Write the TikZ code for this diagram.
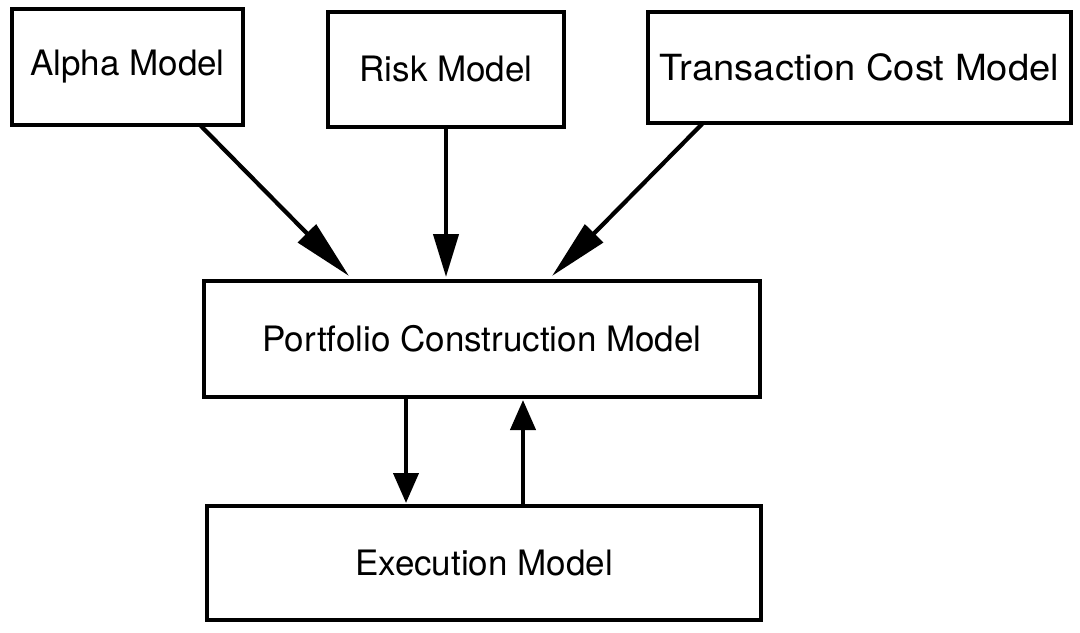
\documentclass[tikz,border=0pt]{standalone}
\usepackage{fontspec}
\setmainfont{TeX Gyre Heros}
\usetikzlibrary{arrows.meta}
\tikzset{
  box/.style={draw=black, line width=2pt, rectangle, inner sep=0pt, outer sep=0pt,
    font=\fontsize{17.5pt}{21pt}\selectfont},
  arr/.style={draw=black, line width=2.1pt},
  diagtip/.style={-{Triangle[length=30pt,width=12.5pt]}},
  midtip/.style={-{Triangle[length=21.5pt,width=12.5pt]}},
  shorttip/.style={-{Triangle[length=15pt,width=12.5pt]}}
}
\begin{document}
\begin{tikzpicture}[x=0.5pt,y=-0.5pt]
\useasboundingbox (0,0) rectangle (1080,632);
\node[box, minimum width=115.5pt, minimum height=58pt] (alpha) at (127.5,67) {Alpha Model};
\node[box, minimum width=118pt, minimum height=57.5pt] (risk) at (446,69.5) {Risk Model};
\node[box, minimum width=211.5pt, minimum height=55.5pt] (tcm) at (859.5,67.5) {\fontsize{18pt}{21pt}\selectfont\scalebox{1.06}[1]{Transaction Cost Model}};
\node[box, minimum width=278pt, minimum height=58pt] (pcm) at (482,339) {Portfolio Construction Model};
\node[box, minimum width=277pt, minimum height=57pt] (exec) at (484,563) {Execution Model};
\draw[arr, diagtip] ([xshift=36.25pt]alpha.south) -- ([xshift=-66.5pt,yshift=2.5pt]pcm.north);
\draw[arr, midtip] (risk.south) -- ([xshift=-18pt,yshift=2pt]pcm.north);
\draw[arr, diagtip] ([xshift=-78.25pt]tcm.south) -- ([xshift=35pt,yshift=2.5pt]pcm.north);
\draw[arr, shorttip] ([xshift=-38pt]pcm.south) -- ([xshift=-39pt,yshift=1.5pt]exec.north);
\draw[arr, shorttip] ([xshift=19.5pt]exec.north) -- ([xshift=20.5pt,yshift=-1.5pt]pcm.south);
\end{tikzpicture}
\end{document}
